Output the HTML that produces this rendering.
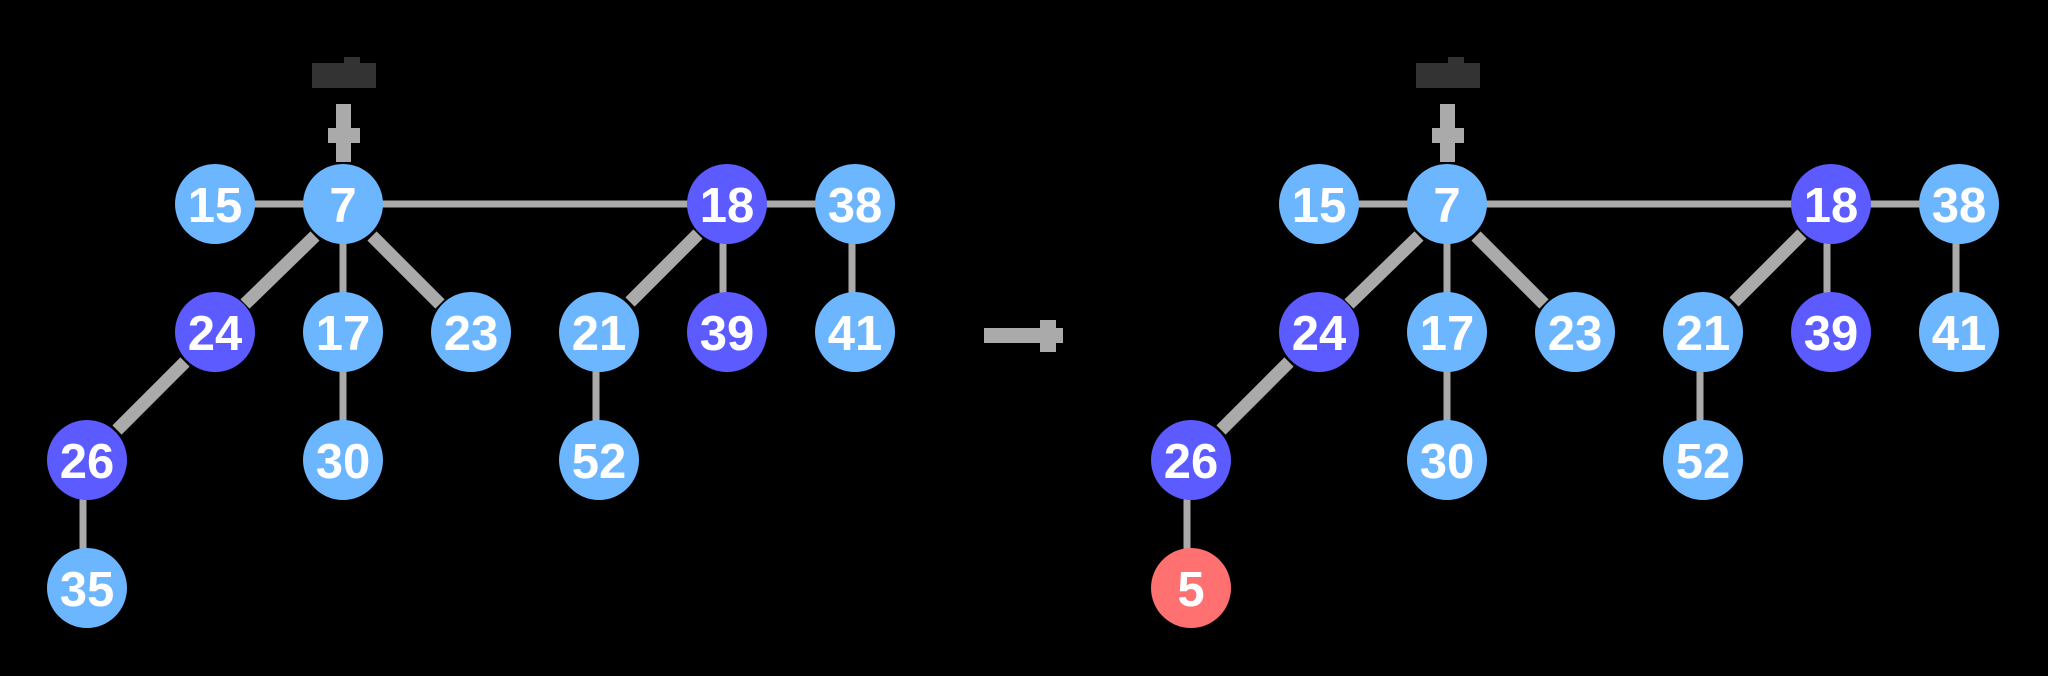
<!DOCTYPE html>
<html><head><meta charset="utf-8"><style>
html,body{margin:0;padding:0;background:#000;}
svg{display:block;}
text{font-family:"Liberation Sans",sans-serif;font-weight:bold;font-size:49px;fill:#fff;text-anchor:middle;}
</style></head><body>
<svg width="2048" height="676" viewBox="0 0 2048 676" xmlns="http://www.w3.org/2000/svg">
<defs>
<g id="common">
  <rect x="312" y="63" width="64" height="25" fill="#333"/>
  <rect x="344" y="57" width="16" height="8" fill="#333"/>
  <rect x="336" y="104" width="15" height="58" fill="#aaa"/>
  <rect x="328" y="128" width="32" height="15" fill="#aaa"/>
  <g stroke="#aaa" fill="none">
    <line x1="215" y1="204" x2="856" y2="204" stroke-width="7"/>
    <line x1="343" y1="204" x2="343" y2="332" stroke-width="7"/>
    <line x1="343" y1="332" x2="343" y2="460" stroke-width="7"/>
    <line x1="723" y1="204" x2="723" y2="332" stroke-width="7"/>
    <line x1="852" y1="204" x2="852" y2="332" stroke-width="7"/>
    <line x1="596" y1="332" x2="596" y2="460" stroke-width="7"/>
    <line x1="83" y1="460" x2="83" y2="588" stroke-width="7"/>
    <line x1="315" y1="236" x2="245" y2="304" stroke-width="13"/>
    <line x1="372" y1="236" x2="440" y2="304" stroke-width="13"/>
    <line x1="698" y1="234" x2="630" y2="302" stroke-width="13"/>
    <line x1="185" y1="362" x2="117" y2="430" stroke-width="13"/>
  </g>
  <circle cx="215" cy="204" r="40" fill="#6cb6ff"/><text x="215" y="222">15</text>
  <circle cx="343" cy="204" r="40" fill="#6cb6ff"/><text x="343" y="222">7</text>
  <circle cx="727" cy="204" r="40" fill="#5b5bff"/><text x="727" y="222">18</text>
  <circle cx="855" cy="204" r="40" fill="#6cb6ff"/><text x="855" y="222">38</text>
  <circle cx="215" cy="332" r="40" fill="#5b5bff"/><text x="215" y="350">24</text>
  <circle cx="343" cy="332" r="40" fill="#6cb6ff"/><text x="343" y="350">17</text>
  <circle cx="471" cy="332" r="40" fill="#6cb6ff"/><text x="471" y="350">23</text>
  <circle cx="599" cy="332" r="40" fill="#6cb6ff"/><text x="599" y="350">21</text>
  <circle cx="727" cy="332" r="40" fill="#5b5bff"/><text x="727" y="350">39</text>
  <circle cx="855" cy="332" r="40" fill="#6cb6ff"/><text x="855" y="350">41</text>
  <circle cx="87" cy="460" r="40" fill="#5b5bff"/><text x="87" y="478">26</text>
  <circle cx="343" cy="460" r="40" fill="#6cb6ff"/><text x="343" y="478">30</text>
  <circle cx="599" cy="460" r="40" fill="#6cb6ff"/><text x="599" y="478">52</text>
</g>
</defs>
<use href="#common"/>
<circle cx="87" cy="588" r="40" fill="#6cb6ff"/><text x="87" y="606">35</text>
<rect x="984" y="328" width="79" height="15" fill="#aaa"/>
<rect x="1040" y="320" width="16" height="32" fill="#aaa"/>
<g transform="translate(1104,0)">
  <use href="#common"/>
  <circle cx="87" cy="588" r="40" fill="#ff7070"/><text x="87" y="606">5</text>
</g>
</svg>
</body></html>
